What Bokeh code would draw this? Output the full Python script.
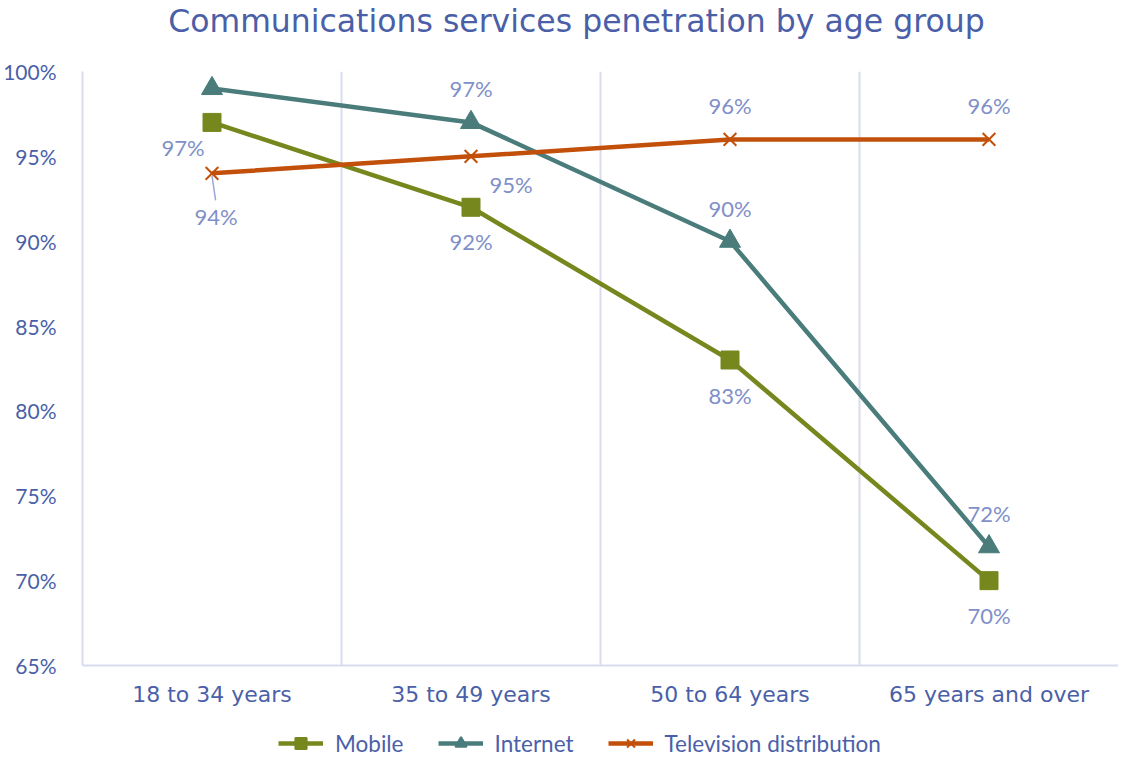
from bokeh.plotting import figure
from bokeh.layouts import column
from bokeh.models import Range1d, FixedTicker, Legend, LegendItem
from bokeh.core.properties import value
from bokeh.embed import file_html
from bokeh.resources import INLINE

title_text = "Communications services penetration by age group"
categories = ["18 to 34 years", "35 to 49 years", "50 to 64 years", "65 years and over"]
mobile = [97, 92, 83, 70]
internet = [99, 97, 90, 72]
television = [94, 95, 96, 96]
y_ticks = [65, 70, 75, 80, 85, 90, 95, 100]
series_names = ["Mobile", "Internet", "Television distribution"]

# label offsets in screen pixels (style, not data)
mobile_off = [(-29, 25), (0, 34), (0, 35), (0, 35)]
internet_off = [(0, -33), (0, -34), (0, -33), (0, -33)]
tv_off = [(4, 43), (40, 28), (0, -34), (0, -34)]

C_MOB = "#76871E"
C_INT = "#4A7C7C"
C_TV = "#C2500A"
C_LBL = "#7F8FC9"
C_AX = "#4A5FA8"
C_GRID = "#D9DCEF"
W = 1118

xs = [i + 0.5 for i in range(len(categories))]

# title strip
tf = figure(width=W, height=40, output_backend="svg", toolbar_location=None,
            x_range=Range1d(0, W), y_range=Range1d(0, 40),
            x_axis_type=None, y_axis_type=None,
            min_border_left=0, min_border_right=0, min_border_top=0, min_border_bottom=0)
tf.outline_line_color = None
tf.grid.grid_line_color = None
tf.text(x=[533], y=[20], text=[title_text], text_align="center", text_baseline="middle",
        text_font=value("DejaVu Sans"), text_font_size="31.5px", text_color=C_AX)

p = figure(width=W, height=689, output_backend="svg", toolbar_location=None,
           x_range=Range1d(0, len(categories)), y_range=Range1d(65, 100),
           min_border_left=73, min_border_right=0, min_border_top=31, min_border_bottom=64)
p.outline_line_color = None
p.background_fill_color = "white"
p.border_fill_color = "white"

# axes
p.yaxis.ticker = FixedTicker(ticks=y_ticks)
p.yaxis.major_label_overrides = {t: f"{t}%" for t in y_ticks}
p.yaxis.major_label_text_font = "Lato"
p.yaxis.major_label_text_font_size = "21px"
p.yaxis.major_label_text_color = C_AX
p.yaxis.major_label_standoff = 20
p.yaxis.major_tick_line_color = None
p.yaxis.minor_tick_line_color = None
p.yaxis.axis_line_color = C_GRID
p.yaxis.axis_line_width = 2

p.xaxis.ticker = FixedTicker(ticks=xs)
p.xaxis.major_label_overrides = {x: c for x, c in zip(xs, categories)}
p.xaxis.major_label_text_font = "DejaVu Sans"
p.xaxis.major_label_text_font_size = "22px"
p.xaxis.major_label_text_color = C_AX
p.xaxis.major_label_standoff = 10
p.xaxis.major_tick_line_color = None
p.xaxis.minor_tick_line_color = None
p.xaxis.axis_line_color = C_GRID
p.xaxis.axis_line_width = 2

p.ygrid.grid_line_color = None
p.xgrid.ticker = FixedTicker(ticks=list(range(1, len(categories) + 1)))
p.xgrid.grid_line_color = C_GRID
p.xgrid.grid_line_width = 2

# series
p.line(xs, mobile, line_width=4.5, color=C_MOB)
p.scatter(xs, mobile, marker="square", size=18, color=C_MOB)
p.line(xs, internet, line_width=4.5, color=C_INT)
p.scatter(xs, internet, marker="triangle", size=21, color=C_INT)
p.line(xs, television, line_width=4.5, color=C_TV)
p.scatter(xs, television, marker="x", size=18, line_width=2, color=C_TV)

# leader line for first TV label
p.segment(x0=[xs[0]], y0=[television[0] - 0.15], x1=[xs[0] + 0.014], y1=[television[0] - 1.6],
          line_color="#9AA6D6", line_width=1.5)

def labels(vals, offs):
    p.text(xs, vals, text=[f"{v}%" for v in vals],
           x_offset=[o[0] for o in offs], y_offset=[o[1] for o in offs],
           text_align="center", text_baseline="middle",
           text_font=value("Lato"), text_font_size="22px", text_color=C_LBL)

labels(mobile, mobile_off)
labels(internet, internet_off)
labels(television, tv_off)

# legend strip below the chart (proxy glyphs sit outside the visible range)
lf = figure(width=W, height=28, output_backend="svg", toolbar_location=None,
            x_range=Range1d(0, 1), y_range=Range1d(0, 1),
            x_axis_type=None, y_axis_type=None,
            min_border_left=0, min_border_right=0, min_border_top=0, min_border_bottom=0)
lf.outline_line_color = None
lf.grid.grid_line_color = None
items = []
for name, col, mk, sz in zip(series_names, [C_MOB, C_INT, C_TV],
                             ["square", "triangle", "x"], [17, 19, 17]):
    r1 = lf.line([-5, -4], [-5, -4], line_width=4.5, color=col)
    r2 = lf.scatter([-5], [-5], marker=mk, size=sz, line_width=2, color=col)
    items.append(LegendItem(label=name, renderers=[r1, r2]))

legend = Legend(items=items, orientation="horizontal", location=(196, 0),
                label_text_font="Lato", label_text_font_size="22.5px", label_text_color=C_AX,
                glyph_width=45, glyph_height=28, spacing=34, label_standoff=12,
                border_line_color=None, background_fill_alpha=0, margin=0, padding=0)
lf.add_layout(legend)

layout = column(tf, p, lf, spacing=0)
open("out.html", "w").write(file_html(layout, INLINE))
